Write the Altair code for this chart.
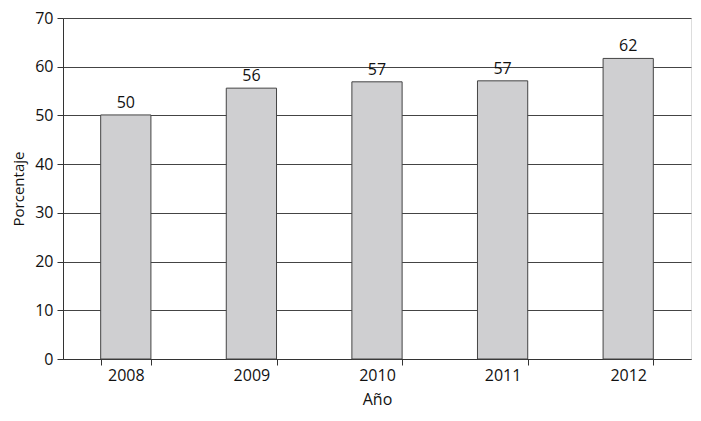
import altair as alt
import pandas as pd

years = ["2008", "2009", "2010", "2011", "2012"]
values = [50.1, 55.6, 56.9, 57.1, 61.7]
labels = ["50", "56", "57", "57", "62"]

df = pd.DataFrame({"Año": years, "Porcentaje": values, "label": labels})

FONT = "Open Sans"

base = alt.Chart(df).encode(
    x=alt.X(
        "Año:N",
        title="Año",
        scale=alt.Scale(paddingInner=0.6, paddingOuter=0.3),
        axis=alt.Axis(
            labelAngle=0,
            tickBand="extent",
            tickSize=6,
            tickColor="#333",
            domainColor="#333",
            labelFont=FONT,
            labelFontSize=16,
            labelColor="#111",
            titleFont=FONT,
            titleFontSize=16,
            titleFontWeight="normal",
            titleColor="#111",
            titlePadding=8,
            labelPadding=2,
        ),
    ),
    y=alt.Y(
        "Porcentaje:Q",
        title="Porcentaje",
        scale=alt.Scale(domain=[0, 70], nice=False),
        axis=alt.Axis(
            values=[0, 10, 20, 30, 40, 50, 60, 70],
            tickSize=6,
            tickColor="#333",
            domainColor="#333",
            gridColor="#444",
            gridOpacity=1,
            labelFont=FONT,
            labelFontSize=16,
            labelColor="#111",
            labelPadding=4,
            titleFont=FONT,
            titleFontSize=15,
            titleFontWeight="normal",
            titleColor="#111",
            titlePadding=8,
        ),
    ),
)

bars = base.mark_bar(color="#cfcfd1", stroke="#444", strokeWidth=1)
text = base.mark_text(dy=-12, font=FONT, fontSize=16, color="#111").encode(
    text="label:N"
)

chart = (
    (bars + text)
    .properties(
        width=685,
        height=405,
        autosize=alt.AutoSizeParams(type="fit", contains="padding"),
        padding={"left": 3, "top": 2, "right": 2, "bottom": 6},
    )
    .configure_view(stroke="#333", strokeWidth=1)
    .configure(background="white")
)

chart.save("out.html", embed_options={"renderer": "svg", "actions": False})
